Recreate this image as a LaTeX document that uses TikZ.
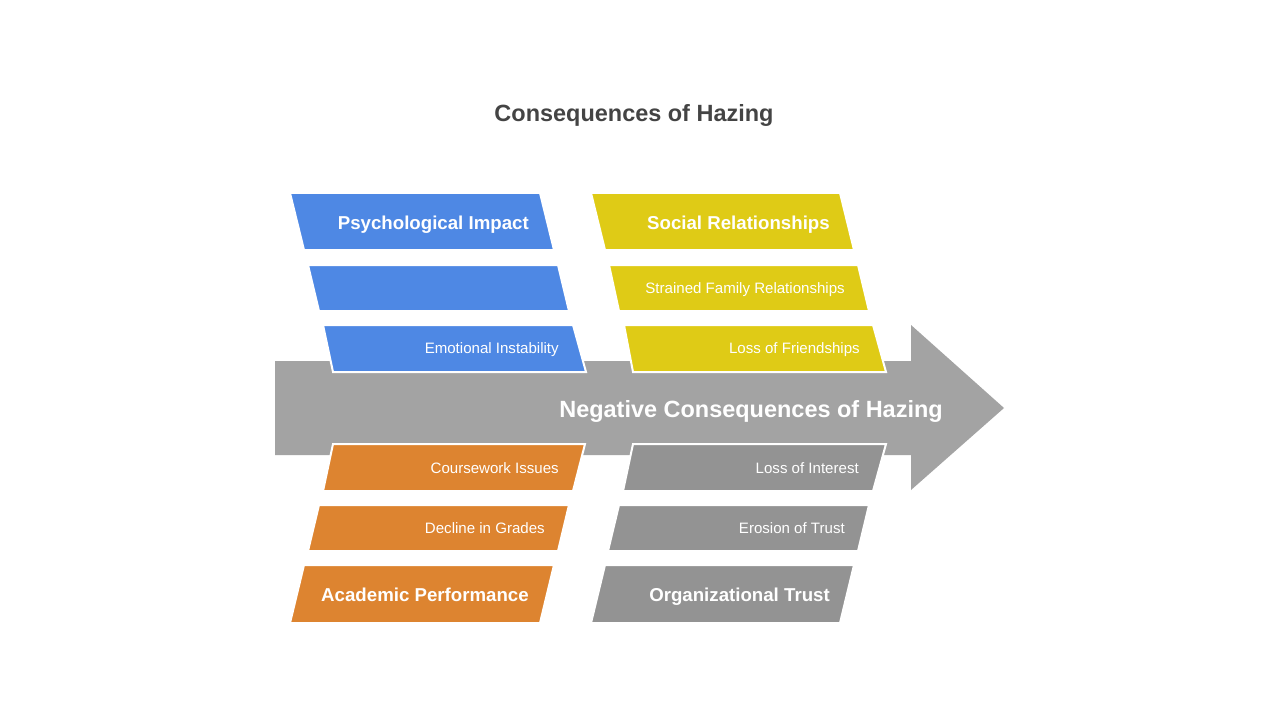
\documentclass[tikz,border=0pt]{standalone}
\usepackage{fontspec}
\setmainfont{Liberation Sans}
\definecolor{cblue}{HTML}{4E88E4}
\definecolor{cyellow}{HTML}{DFCB16}
\definecolor{corange}{HTML}{DD8430}
\definecolor{cgraybox}{HTML}{939393}
\definecolor{carrow}{HTML}{A3A3A3}
\definecolor{ctitle}{HTML}{444444}
\begin{document}
\begin{tikzpicture}[x=0.75pt,y=-0.75pt,
  pbox/.style={draw=white,line width=1.5pt,line join=miter},
  headtxt/.style={anchor=base east,text=white,font=\fontsize{14}{16}\selectfont\bfseries,inner sep=0pt},
  subtxt/.style={anchor=base east,text=white,font=\fontsize{11.3}{13}\selectfont,inner sep=0pt},
  maintxt/.style={anchor=base east,text=white,font=\fontsize{17.6}{20}\selectfont\bfseries,inner sep=0pt},
  titletxt/.style={anchor=base,text=ctitle,font=\fontsize{17.6}{20}\selectfont\bfseries,inner sep=0pt}]
\useasboundingbox (0,0) rectangle (1280,720);
\fill[white] (0,0) rectangle (1280,720);
% title
\node[titletxt] (title) at (634,122) {Consequences of Hazing};
% main arrow
\fill[carrow] (275,361) -- (911,361) -- (911,325) -- (1004,408) -- (911,490) -- (911,455) -- (275,455) -- cycle;
\node[maintxt] (main) at (943,417) {Negative Consequences of Hazing};
% blue (top-left)
\fill[cblue,pbox] (290,193) -- (540,193) -- (554,250) -- (304,250) -- cycle;
\fill[cblue,pbox] (308,265) -- (558,265) -- (569,311) -- (319,311) -- cycle;
\fill[cblue,pbox] (323,325) -- (573,325) -- (586,372) -- (333,372) -- cycle;
\node[headtxt] (psy) at (529,229) {Psychological Impact};
\node[subtxt] (emo) at (559,353) {Emotional Instability};
% yellow (top-right)
\fill[cyellow,pbox] (591,193) -- (840,193) -- (854,250) -- (605,250) -- cycle;
\fill[cyellow,pbox] (609,265) -- (858,265) -- (869,311) -- (619,311) -- cycle;
\fill[cyellow,pbox] (624,325) -- (873,325) -- (886,372) -- (633,372) -- cycle;
\node[headtxt] (soc) at (830,229) {Social Relationships};
\node[subtxt] (fam) at (845,293) {Strained Family Relationships};
\node[subtxt] (fri) at (860,353) {Loss of Friendships};
% orange (bottom-left)
\fill[corange,pbox] (333,444) -- (585,444) -- (573,491) -- (323,491) -- cycle;
\fill[corange,pbox] (319,505) -- (569,505) -- (558,551) -- (308,551) -- cycle;
\fill[corange,pbox] (304,565) -- (554,565) -- (540,623) -- (290,623) -- cycle;
\node[subtxt] (cw) at (559,473) {Coursework Issues};
\node[subtxt] (dg) at (545,533) {Decline in Grades};
\node[headtxt] (aca) at (529,601) {Academic Performance};
% gray (bottom-right)
\fill[cgraybox,pbox] (633,444) -- (886,444) -- (873,491) -- (623,491) -- cycle;
\fill[cgraybox,pbox] (619,505) -- (869,505) -- (858,551) -- (608,551) -- cycle;
\fill[cgraybox,pbox] (605,565) -- (854,565) -- (840,623) -- (591,623) -- cycle;
\node[subtxt] (li) at (859,473) {Loss of Interest};
\node[subtxt] (et) at (845,533) {Erosion of Trust};
\node[headtxt] (org) at (830,601) {Organizational Trust};
\end{tikzpicture}
\end{document}
